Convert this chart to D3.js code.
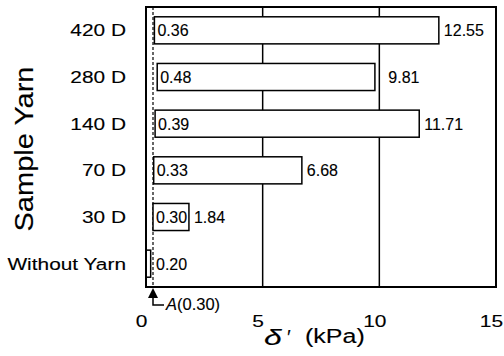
<!DOCTYPE html>
<html>
<head>
<meta charset="utf-8">
<script src="https://cdn.jsdelivr.net/npm/d3@7"></script>
<style>
  body { margin: 0; background: #fff; }
  svg { display: block; font-family: "Liberation Sans", Arial, sans-serif; }
  text { fill: #000; stroke: #000; stroke-width: 0.12px; }
</style>
</head>
<body>
<svg id="chart" width="504" height="356"></svg>
<script>
// values
const categories = ["420 D", "280 D", "140 D", "70 D", "30 D", "Without Yarn"];
const startValues = [0.36, 0.48, 0.39, 0.33, 0.30, 0];
const endValues = [12.55, 9.81, 11.71, 6.68, 1.84, 0.20];
const xTicks = [0, 5, 10, 15];
const gridTicks = [5, 10];
const thresholdA = 0.30;

const svg = d3.select("#chart");
const box = {left: 146, right: 496, top: 7, bottom: 287};

const x = d3.scaleLinear().domain([0, 15]).range([box.left, box.right]);
const y = d3.scaleBand().domain(categories).range([box.top, box.bottom])
    .paddingInner(0.42).paddingOuter(0.21);

// the original lettering is wider than Arial, so stretch it
function widen(sel, k) {
    sel.each(function () {
        const len = this.getComputedTextLength();
        d3.select(this).attr("textLength", len * k).attr("lengthAdjust", "spacingAndGlyphs");
    });
}

const rows = categories.map((c, i) => ({cat: c, start: startValues[i], end: endValues[i]}));

// grid lines
svg.selectAll("line.grid").data(gridTicks).enter().append("line")
    .attr("x1", d => x(d)).attr("x2", d => x(d))
    .attr("y1", box.top).attr("y2", box.bottom)
    .attr("stroke", "#000").attr("stroke-width", 1.5);

// dashed line at A
svg.append("line")
    .attr("x1", x(thresholdA)).attr("x2", x(thresholdA))
    .attr("y1", box.top).attr("y2", box.bottom)
    .attr("stroke", "#000").attr("stroke-width", 1.2)
    .attr("stroke-dasharray", "3,2");

// bars
svg.selectAll("rect.bar").data(rows).enter().append("rect")
    .attr("x", d => x(d.start))
    .attr("y", d => y(d.cat))
    .attr("width", d => x(d.end) - x(d.start))
    .attr("height", y.bandwidth())
    .attr("fill", "#fff").attr("stroke", "#000").attr("stroke-width", 1.5);

// frame
svg.append("rect")
    .attr("x", box.left).attr("y", box.top)
    .attr("width", box.right - box.left).attr("height", box.bottom - box.top)
    .attr("fill", "none").attr("stroke", "#000").attr("stroke-width", 2);

// value labels
const mid = d => y(d.cat) + y.bandwidth() / 2;
svg.selectAll("text.lo").data(rows).enter().append("text")
    .attr("x", d => Math.max(x(d.start), x(thresholdA)) + 3)
    .attr("y", d => mid(d) + 6)
    .attr("font-size", 16)
    .text(d => d.start > 0 ? d.start.toFixed(2) : d.end.toFixed(2));

svg.selectAll("text.hi").data(rows.filter(d => d.start > 0)).enter().append("text")
    .attr("x", d => {
        let px = x(d.end) + 5;
        gridTicks.forEach(t => { if (x(t) >= x(d.end) && x(t) <= px + 2) px = x(t) + 9; });
        return px;
    })
    .attr("y", d => mid(d) + 6)
    .attr("font-size", 16)
    .text(d => d.end.toFixed(2));

// category labels
svg.selectAll("text.cat").data(categories).enter().append("text")
    .attr("x", 126).attr("y", d => y(d) + y.bandwidth() / 2 + 6)
    .attr("text-anchor", "end")
    .attr("font-size", 16.3)
    .text(d => d)
    .call(widen, 1.28);

// x axis tick labels
const axis = svg.append("g")
    .attr("transform", `translate(0,${box.bottom})`)
    .call(d3.axisBottom(x).tickValues(xTicks).tickSize(0).tickFormat(d3.format("d")));
axis.select(".domain").remove();
axis.selectAll("text")
    .attr("x", -5).attr("y", 40).attr("dy", 0)
    .attr("font-size", 16.5)
    .attr("font-family", "Liberation Sans, Arial, sans-serif")
    .attr("fill", "#000")
    .call(widen, 1.27);

// axis titles
svg.append("text")
    .attr("transform", "translate(33,149) rotate(-90)")
    .attr("text-anchor", "middle")
    .attr("font-size", 25)
    .text("Sample Yarn")
    .call(widen, 1.16);

svg.append("text")
    .attr("x", 264).attr("y", 345)
    .attr("font-size", 22)
    .attr("font-style", "italic")
    .text("δ")
    .call(widen, 1.45);
svg.append("text")
    .attr("x", 287).attr("y", 344)
    .attr("font-size", 20)
    .text("\u2032");
svg.append("text")
    .attr("x", 305).attr("y", 343)
    .attr("font-size", 20)
    .text("(kPa)")
    .call(widen, 1.25);

// annotation A(0.30)
const xa = x(thresholdA);
svg.append("path")
    .attr("d", `M${xa},${box.bottom + 1} L${xa - 5},${box.bottom + 11} L${xa + 5},${box.bottom + 11} Z`)
    .attr("fill", "#000");
svg.append("path")
    .attr("d", `M${xa},${box.bottom + 10} V${box.bottom + 18} H${xa + 11}`)
    .attr("fill", "none").attr("stroke", "#000").attr("stroke-width", 1.5);
const ann = svg.append("text")
    .attr("x", xa + 13).attr("y", box.bottom + 23)
    .attr("font-size", 16.5);
ann.append("tspan").attr("font-style", "italic").text("A");
ann.append("tspan").text("(" + thresholdA.toFixed(2) + ")");
</script>
</body>
</html>
